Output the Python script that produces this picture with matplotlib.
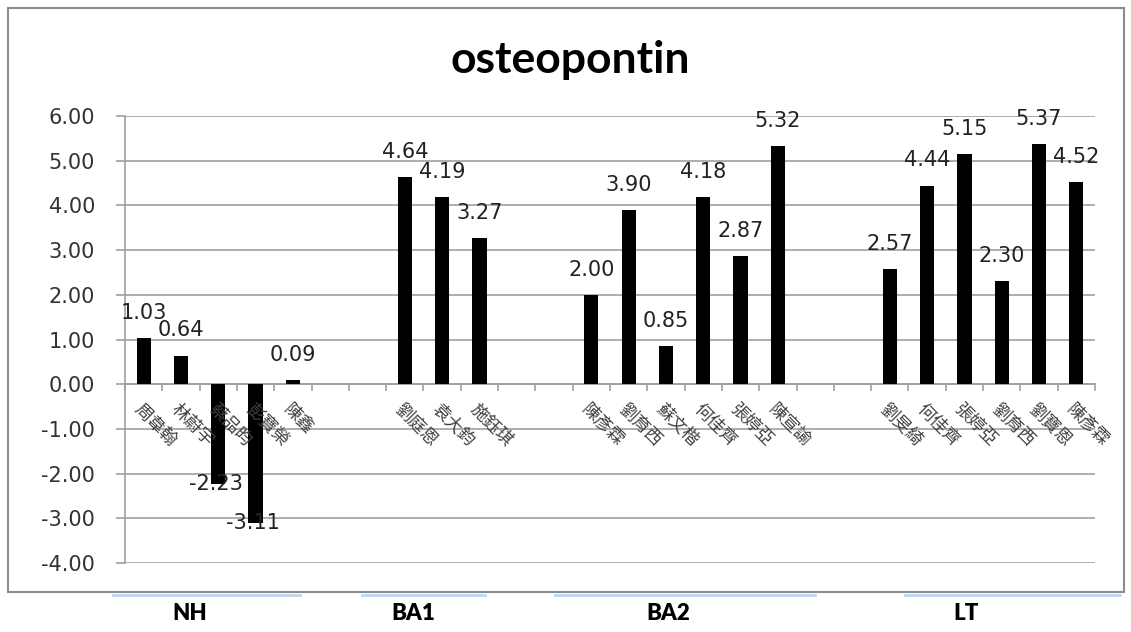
import matplotlib
matplotlib.use("Agg")
import matplotlib.pyplot as plt
from matplotlib.lines import Line2D
from matplotlib.patches import Rectangle

# ---- data ----
groups = ["NH", "BA1", "BA2", "LT"]
nh_names = ["周韋翰", "林蔚宇", "蔡品昀", "彭寶榮", "陳鑫"]
nh_values = [1.03, 0.64, -2.23, -3.11, 0.09]
ba1_names = ["劉庭恩", "袁大鈞", "施鈺琪"]
ba1_values = [4.64, 4.19, 3.27]
ba2_names = ["陳彥霖", "劉育西", "蘇文楷", "何佳齊", "張婷亞", "陳宣諭"]
ba2_values = [2.00, 3.90, 0.85, 4.18, 2.87, 5.32]
lt_names = ["劉旻綺", "何佳齊", "張婷亞", "劉育西", "劉寶恩", "陳彥霖"]
lt_values = [2.57, 4.44, 5.15, 2.30, 5.37, 4.52]
yticks = [6.0, 5.0, 4.0, 3.0, 2.0, 1.0, 0.0, -1.0, -2.0, -3.0, -4.0]

names_by_group = [nh_names, ba1_names, ba2_names, lt_names]
values_by_group = [nh_values, ba1_values, ba2_values, lt_values]
gap = 2

numfont = "DejaVu Sans"
cjk = ["Noto Sans CJK TC", "DejaVu Sans"]

# build positions
labels, values, positions = [], [], []
pos = 0
for gi, (nm, vl) in enumerate(zip(names_by_group, values_by_group)):
    for n, v in zip(nm, vl):
        labels.append(n); values.append(v); positions.append(pos)
        pos += 1
    if gi < len(names_by_group) - 1:
        pos += gap
nslots = pos

fig = plt.figure(figsize=(11.31, 6.32), dpi=100)
fig.patches.append(Rectangle((8/1131, 1-592/632), (1124-8)/1131, (592-8)/632,
                             transform=fig.transFigure, fill=False,
                             edgecolor="#8c8c8c", linewidth=1.5))
ax = fig.add_axes([125/1131, 1-563/632, (1095-125)/1131, (563-116)/632])

ax.bar(positions, values, width=0.38, color="black", zorder=3)
ax.set_xlim(-0.5, nslots - 0.5)
ax.set_ylim(-4, 6)
ax.set_yticks(yticks)
ax.set_yticklabels([f"{t:.2f}" for t in yticks], fontfamily=numfont, fontsize=15, color="#333333")
ax.yaxis.grid(True, color="#a0a0a0", linewidth=1.2, zorder=0)
ax.tick_params(axis="y", length=6.5, width=1.2, color="#a0a0a0", pad=15)
for s in ["top", "right", "bottom"]:
    ax.spines[s].set_visible(False)
ax.spines["left"].set_color("#a0a0a0")
ax.spines["left"].set_linewidth(1.2)

# x axis at zero with tick marks at boundaries
ax.set_xticks([])
ax.axhline(0, color="#a0a0a0", linewidth=1.2, zorder=2)
for b in range(nslots + 1):
    ax.plot([b - 0.5, b - 0.5], [0, -0.14], color="#a0a0a0", linewidth=1.2,
            clip_on=False, zorder=2)

# category labels
for p, n in zip(positions, labels):
    ax.annotate(n, xy=(p, 0), xytext=(-5, -16), textcoords="offset points",
                rotation=-45, rotation_mode="anchor", ha="left", va="center",
                fontfamily=cjk, fontsize=12.5, color="#404040")

# data labels
for p, v in zip(positions, values):
    if v >= 0:
        ax.annotate(f"{v:.2f}", xy=(p, v), xytext=(0, 11), textcoords="offset points",
                    ha="center", va="bottom", fontfamily=numfont, fontsize=15, color="#222222")
    else:
        ax.annotate(f"{v:.2f}", xy=(p, v), xytext=(-2, 0), textcoords="offset points",
                    ha="center", va="center", fontfamily=numfont, fontsize=15, color="#222222")

fig.text(570/1131, 1-60/632, "osteopontin", ha="center", va="center",
         fontfamily="Lato", fontsize=32, fontweight="bold")

# group labels with light-blue lines
line_spans = [(113, 300), (362, 485), (555, 815), (905, 1120)]
label_x = [190, 413, 668, 966]
for g, (x0, x1), lx in zip(groups, line_spans, label_x):
    fig.add_artist(Line2D([x0/1131, x1/1131], [1-595/632, 1-595/632],
                          transform=fig.transFigure, color="#bcd8f0", linewidth=2))
    fig.text(lx/1131, 1-614/632, g, ha="center", va="center",
             fontfamily="Lato", fontsize=16, fontweight="heavy")

fig.savefig("out.png", dpi=100)
